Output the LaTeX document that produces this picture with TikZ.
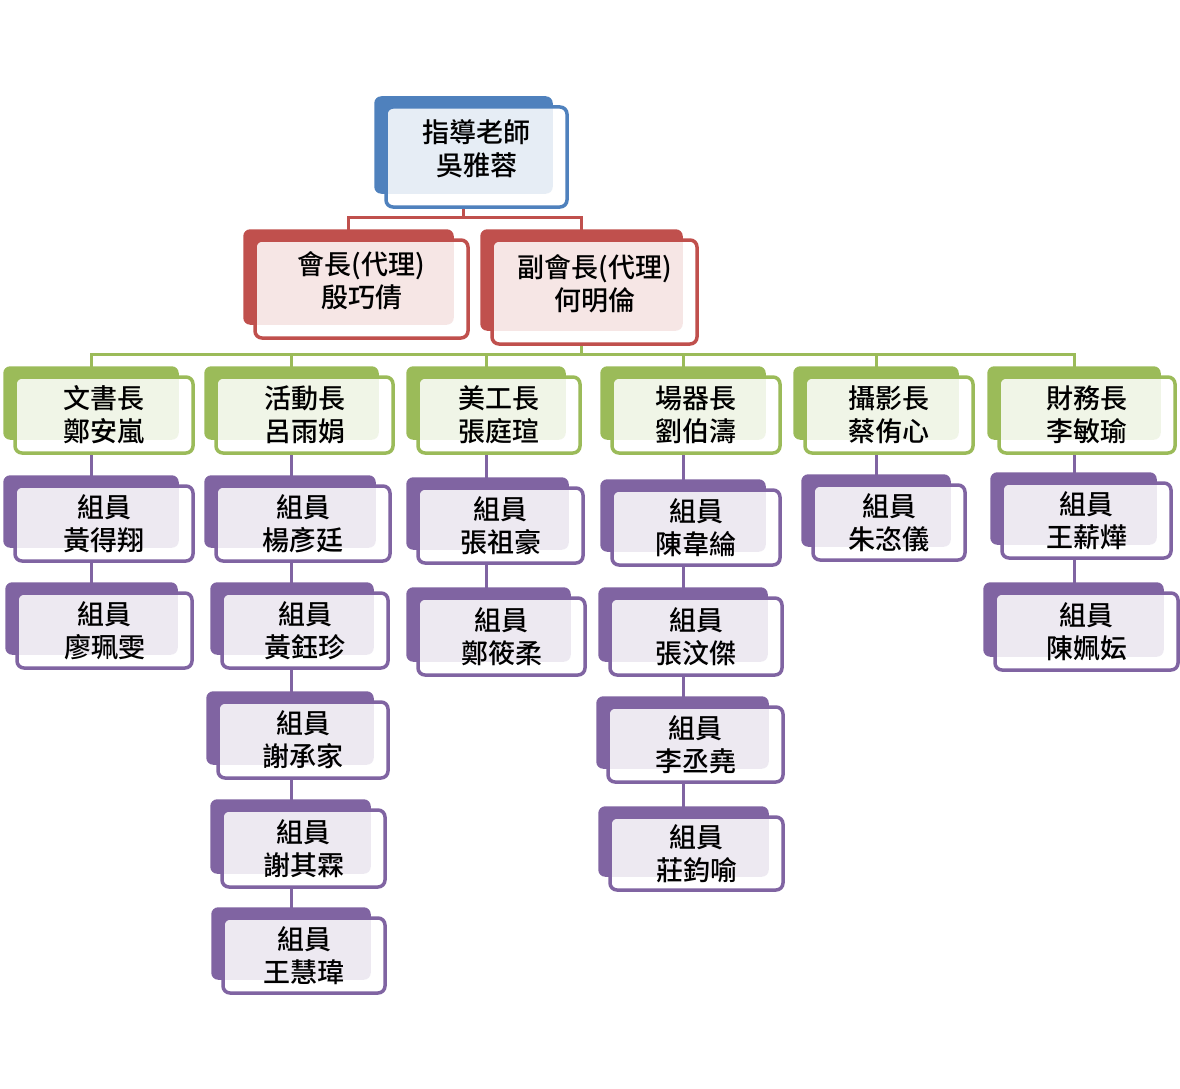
\documentclass[tikz,border=0pt]{standalone}
\usepackage{fontspec}
\setmainfont{Noto Sans CJK TC}[UprightFont=* Medium]
\usetikzlibrary{backgrounds}

\definecolor{teacher}{HTML}{4F81BD}
\definecolor{chair}{HTML}{C0504D}
\definecolor{leader}{HTML}{9BBB59}
\definecolor{member}{HTML}{8064A2}

\tikzset{
  box/.style={draw=#1, line width=3.5pt, rounded corners=7pt, fill=white,
    fill opacity=0.86, text opacity=1, align=center, inner sep=0pt,
    font=\fontsize{27}{33}\selectfont},
  high/.style={text depth=19pt},
  link/.style={draw=#1, line width=3pt},
}

\begin{document}
\begin{tikzpicture}[x=1pt, y=-1pt]
  \useasboundingbox (0,0) rectangle (1180,1089);

  % top and officers
  \node[box=teacher, high, minimum width=181, minimum height=100] (top) at (476.5,157) {指導老師\\吳雅蓉};
  \node[box=chair, high, minimum width=213, minimum height=98] (r1) at (361.5,289) {會長(代理)\\殷巧倩};
  \node[box=chair, high, minimum width=205, minimum height=104] (r2) at (594.5,292) {副會長(代理)\\何明倫};

  % group leaders
  \node[box=leader, minimum width=178, minimum height=76] (g1) at (104,415) {文書長\\鄭安嵐};
  \node[box=leader, minimum width=177, minimum height=76] (g2) at (304.5,415) {活動長\\呂雨娟};
  \node[box=leader, minimum width=162, minimum height=76] (g3) at (499,415) {美工長\\張庭瑄};
  \node[box=leader, minimum width=168, minimum height=76] (g4) at (696,415) {場器長\\劉伯濤};
  \node[box=leader, minimum width=168, minimum height=76] (g5) at (889,415) {攝影長\\蔡侑心};
  \node[box=leader, minimum width=176, minimum height=76] (g6) at (1087,415) {財務長\\李敏瑜};

  % members
  \node[box=member, minimum width=178, minimum height=75] (p11) at (104,523.5) {組員\\黃得翔};
  \node[box=member, minimum width=175, minimum height=75] (p12) at (104.5,630.5) {組員\\廖珮雯};
  \node[box=member, minimum width=174, minimum height=75] (p21) at (303,523.5) {組員\\楊彥廷};
  \node[box=member, minimum width=166, minimum height=75] (p22) at (305,630.5) {組員\\黃鈺珍};
  \node[box=member, minimum width=170, minimum height=76] (p23) at (303,740) {組員\\謝承家};
  \node[box=member, minimum width=163, minimum height=77] (p24) at (303.5,848.5) {組員\\謝其霖};
  \node[box=member, minimum width=162, minimum height=75] (p25) at (304,955.5) {組員\\王慧瑋};
  \node[box=member, minimum width=165, minimum height=75] (p31) at (500.5,525.5) {組員\\張祖豪};
  \node[box=member, minimum width=167, minimum height=77] (p32) at (501.5,636.5) {組員\\鄭筱柔};
  \node[box=member, minimum width=168, minimum height=75] (p41) at (696,527.5) {組員\\陳韋綸};
  \node[box=member, minimum width=172, minimum height=77] (p42) at (696,636.5) {組員\\張汶傑};
  \node[box=member, minimum width=175, minimum height=75] (p43) at (695.5,744.5) {組員\\李丞堯};
  \node[box=member, minimum width=173, minimum height=73] (p44) at (696.5,853.5) {組員\\莊鈞喻};
  \node[box=member, minimum width=152, minimum height=75] (p51) at (889,522.5) {組員\\朱恣儀};
  \node[box=member, minimum width=169, minimum height=75] (p61) at (1086.5,520.5) {組員\\王薪燁};
  \node[box=member, minimum width=183, minimum height=77] (p62) at (1086.5,631.5) {組員\\陳姵妘};

  \begin{pgfonlayer}{background}
    % column lines
    \foreach \n in {top,r1,r2,g1,g2,g3,g4,g5,g6}
      \coordinate (x\n) at ([xshift=-13pt]\n.south);
    \coordinate (rbus) at (0,217);
    \coordinate (gbus) at (0,354);

    \draw[link=chair] (xtop) -- (xtop |- rbus);
    \draw[link=chair] (xr1 |- r1.north) |- (rbus -| xr2) -- (xr2 |- r2.north);

    \draw[link=leader] (xr2) -- (xr2 |- gbus);
    \draw[link=leader] (xg1 |- g1.north) |- (gbus -| xg6) -- (xg6 |- g6.north);
    \foreach \n in {g2,g3,g4,g5}
      \draw[link=leader] (x\n |- gbus) -- (x\n |- \n.north);

    \foreach \a/\b/\x in {g1/p11/xg1, p11/p12/xg1,
        g2/p21/xg2, p21/p22/xg2, p22/p23/xg2, p23/p24/xg2, p24/p25/xg2,
        g3/p31/xg3, p31/p32/xg3,
        g4/p41/xg4, p41/p42/xg4, p42/p43/xg4, p43/p44/xg4,
        g5/p51/xg5, g6/p61/xg6, p61/p62/xg6}
      \draw[link=member] (\a.south -| \x) -- (\b.north -| \x);

    % back plates
    \foreach \n/\c in {top/teacher, r1/chair, r2/chair,
        g1/leader, g2/leader, g3/leader, g4/leader, g5/leader, g6/leader,
        p11/member, p12/member, p21/member, p22/member, p23/member, p24/member,
        p25/member, p31/member, p32/member, p41/member, p42/member, p43/member,
        p44/member, p51/member, p61/member, p62/member}
      \fill[\c, rounded corners=7pt] ([shift={(-10,-9)}]\n.north west) rectangle ([shift={(-16,-15)}]\n.south east);
  \end{pgfonlayer}
\end{tikzpicture}
\end{document}
